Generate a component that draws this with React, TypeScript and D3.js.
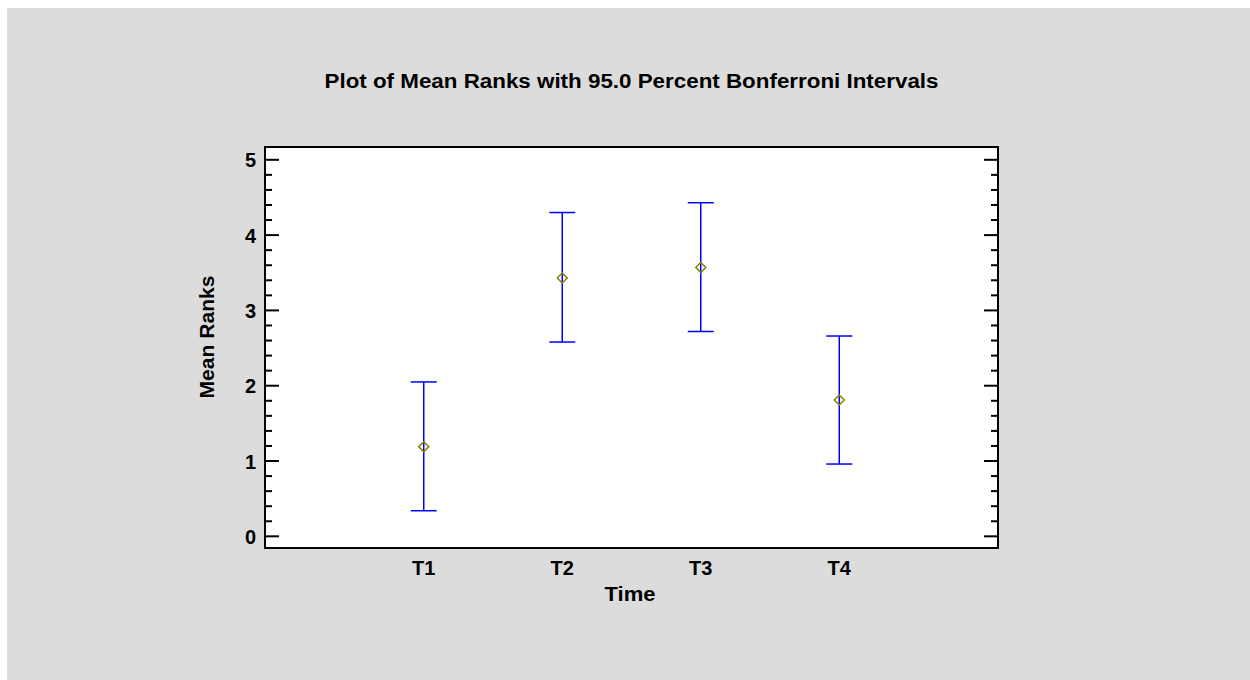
import { scaleLinear } from 'd3';

const categories = ['T1', 'T2', 'T3', 'T4'];
const means = [1.19, 3.43, 3.57, 1.81];
const lowers = [0.34, 2.58, 2.72, 0.96];
const uppers = [2.05, 4.3, 4.43, 2.66];
const yTicks = [0, 1, 2, 3, 4, 5];

const title = 'Plot of Mean Ranks with 95.0 Percent Bonferroni Intervals';
const xTitle = 'Time';
const yTitle = 'Mean Ranks';

const W = 1243;
const H = 672;
// plot frame, in page coordinates (group is shifted back by the svg offset)
const left = 265;
const right = 998;
const top = 147;
const bottom = 548;
const font = '"Liberation Sans", Arial, sans-serif';

export default function App(): JSX.Element {
  const x = scaleLinear().domain([-0.146, 5.146]).range([left, right]);
  const y = scaleLinear().domain([-0.155, 5.17]).range([bottom, top]);
  const minor: number[] = [];
  for (let i = 0; i <= 25; i++) {
    if (i % 5 !== 0) minor.push(i / 5);
  }
  const cap = 13;
  const d = 5;

  return (
    <svg
      width={W}
      height={H}
      style={{ position: 'absolute', left: 7, top: 8, display: 'block' }}
      fontFamily={font}
    >
      <rect width={W} height={H} fill="#dcdcdc" />
      <g transform="translate(-7,-8)">
        <text
          x={(left + right) / 2}
          y={88}
          textAnchor="middle"
          fontSize={19.5}
          fontWeight="bold"
          textLength={614}
          lengthAdjust="spacingAndGlyphs"
        >
          {title}
        </text>
        <rect x={left} y={top} width={right - left} height={bottom - top} fill="#fff" />

        {yTicks.map((t) => (
          <g key={t}>
            <line x1={left} x2={left + 14} y1={y(t)} y2={y(t)} stroke="#000" strokeWidth={2} />
            <line x1={right - 14} x2={right} y1={y(t)} y2={y(t)} stroke="#000" strokeWidth={2} />
            <text x={256} y={y(t) + 7.5} textAnchor="end" fontSize={20} fontWeight="bold">
              {t}
            </text>
          </g>
        ))}
        {minor.map((t) => (
          <g key={t}>
            <line x1={left} x2={left + 7} y1={y(t)} y2={y(t)} stroke="#000" strokeWidth={2} />
            <line x1={right - 7} x2={right} y1={y(t)} y2={y(t)} stroke="#000" strokeWidth={2} />
          </g>
        ))}

        {categories.map((c, i) => {
          const cx = x(i + 1);
          const my = y(means[i]);
          return (
            <g key={c}>
              <line x1={cx} x2={cx} y1={y(uppers[i])} y2={y(lowers[i])} stroke="#0000ff" strokeWidth={1.5} />
              <line x1={cx - cap} x2={cx + cap} y1={y(uppers[i])} y2={y(uppers[i])} stroke="#0000ff" strokeWidth={1.5} />
              <line x1={cx - cap} x2={cx + cap} y1={y(lowers[i])} y2={y(lowers[i])} stroke="#0000ff" strokeWidth={1.5} />
              <path
                d={`M${cx - d},${my}L${cx},${my - d}L${cx + d},${my}L${cx},${my + d}Z`}
                fill="none"
                stroke="#808000"
                strokeWidth={1.5}
              />
              <text x={cx} y={575} textAnchor="middle" fontSize={20} fontWeight="bold">
                {c}
              </text>
            </g>
          );
        })}

        <rect x={left} y={top} width={right - left} height={bottom - top} fill="none" stroke="#000" strokeWidth={2} />

        <text
          x={630}
          y={601}
          textAnchor="middle"
          fontSize={20}
          fontWeight="bold"
          textLength={51}
          lengthAdjust="spacingAndGlyphs"
        >
          {xTitle}
        </text>
        <text
          transform={`translate(214,337) rotate(-90)`}
          textAnchor="middle"
          fontSize={20}
          fontWeight="bold"
          textLength={123}
          lengthAdjust="spacingAndGlyphs"
        >
          {yTitle}
        </text>
      </g>
    </svg>
  );
}
